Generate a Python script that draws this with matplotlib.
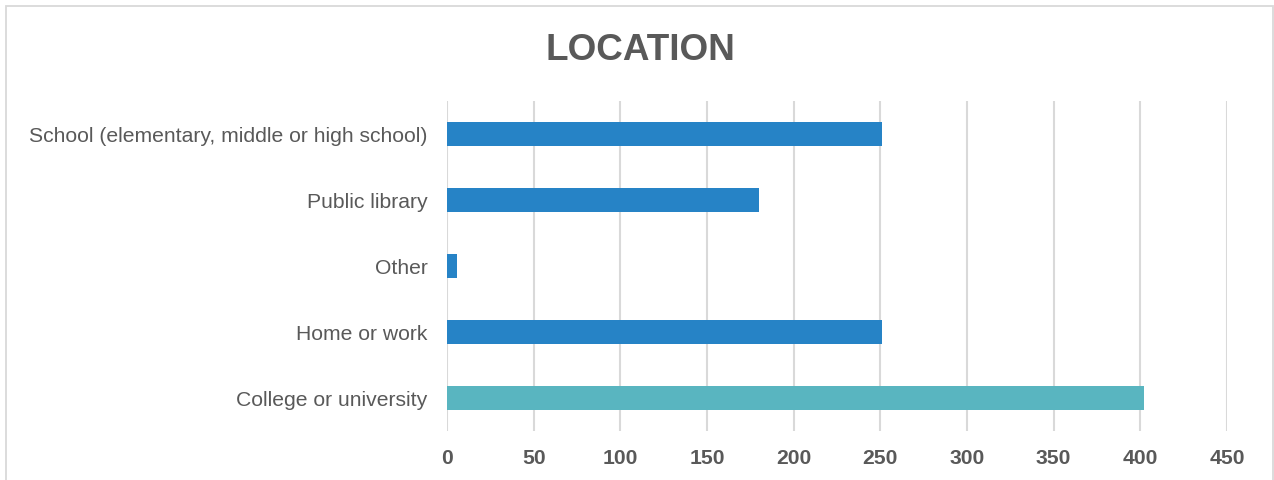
import matplotlib
matplotlib.use("Agg")
import matplotlib.pyplot as plt
from matplotlib.patches import Rectangle

categories = ["College or university", "Home or work", "Other", "Public library",
              "School (elementary, middle or high school)"]
values = [402, 251, 6, 180, 251]
colors = ["#59B5C0", "#2683C6", "#2683C6", "#2683C6", "#2683C6"]
xticks = [0, 50, 100, 150, 200, 250, 300, 350, 400, 450]
title = "LOCATION"

plt.rcParams['font.family'] = ['Liberation Sans', 'DejaVu Sans']
W, H = 1274, 480
fig = plt.figure(figsize=(W / 100, H / 100), dpi=100)
ax = fig.add_axes([447 / W, 1 - 431 / H, 780 / W, 330 / H])

ypos = list(range(len(categories)))
ax.barh(ypos, values, height=0.36, color=colors, zorder=3)
ax.set_xlim(0, 450)
ax.set_ylim(-0.5, len(categories) - 0.5)
ax.set_xticks(xticks)
ax.set_xticklabels([str(t) for t in xticks], fontsize=15.2, fontweight='bold', color='#595959')
ax.set_yticks(ypos)
ax.set_yticklabels(categories, fontsize=15.2, color='#595959')
ax.tick_params(axis='both', length=0)
ax.tick_params(axis='x', pad=13)
ax.tick_params(axis='y', pad=14)
ax.grid(axis='x', color='#D9D9D9', linewidth=1.5, zorder=0)
for s in ax.spines.values():
    s.set_visible(False)

fig.text(640 / W, 1 - 50 / H, title, ha='center', va='center', fontsize=26.6,
         fontweight='bold', color='#595959')

fig.patches.append(Rectangle((6.5 / W, -0.1), (1272.5 - 6.5) / W, 1 - 5.5 / H + 0.1,
                             transform=fig.transFigure, fill=False,
                             edgecolor='#D9D9D9', linewidth=1.3))

fig.savefig("out.png", dpi=100)
